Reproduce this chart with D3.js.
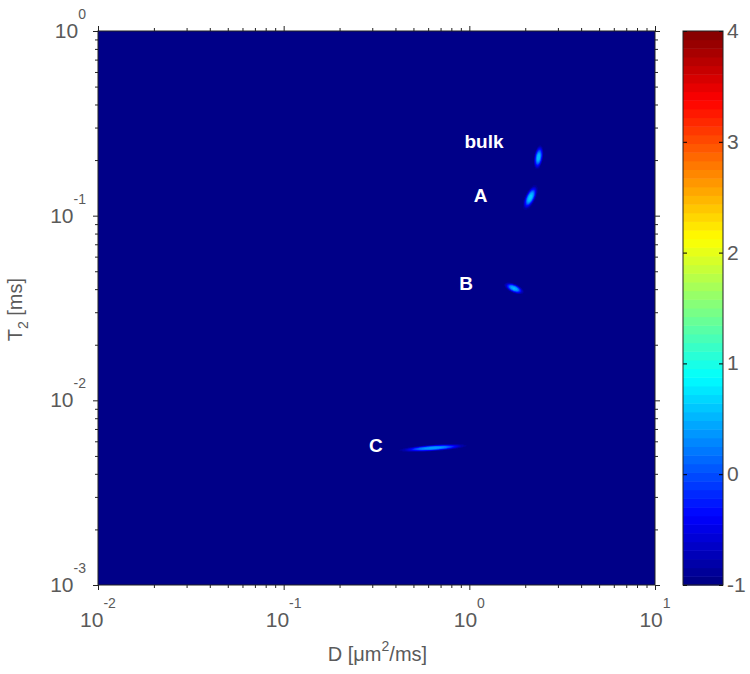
<!DOCTYPE html>
<html>
<head>
<meta charset="utf-8">
<script src="https://cdn.jsdelivr.net/npm/d3@7"></script>
<style>
  body { margin: 0; background: #fff; }
  text { font-family: "Liberation Sans", Arial, sans-serif; }
</style>
</head>
<body>
<svg id="chart"></svg>
<script>
// D-T2 map: peaks (D in um^2/ms, T2 in ms)
var peakNames = ["bulk", "A", "B", "C"];
var peakD     = [2.36, 2.13, 1.74, 0.637];
var peakT2    = [0.207, 0.1255, 0.0404, 0.00552];
var peakAmp   = [0.55, 0.6, 0.5, 0.4];           // colour-bar value at the peak
var peakLen   = [0.058, 0.062, 0.050, 0.160];    // half length, decades
var peakWid   = [0.022, 0.025, 0.022, 0.016];    // half width, decades
var peakTilt  = [-81, -65, 24, -4];              // degrees, screen space

// label positions
var labelD  = [1.2, 1.15, 0.96, 0.314];
var labelT2 = [0.254, 0.129, 0.043, 0.0057];

var xTickExp = [-2, -1, 0, 1];
var yTickExp = [0, -1, -2, -3];
var cbTicks  = [-1, 0, 1, 2, 3, 4];

var W = 750, H = 674;
var mLeft = 98, mRight = 655, mTop = 31, mBottom = 585;

var svg = d3.select("#chart").attr("width", W).attr("height", H);

var x = d3.scaleLog().domain([0.01, 10]).range([mLeft, mRight]);
var y = d3.scaleLog().domain([0.001, 1]).range([mBottom, mTop]);

// jet colour map, 64 steps, -1..4
var jetC = d3.scaleLinear()
    .domain([0, 0.125, 0.375, 0.625, 0.875, 1])
    .range(["#000080", "#0000ff", "#00ffff", "#ffff00", "#ff0000", "#800000"]);
function jet(v) {
    var f = (v + 1) / 5;
    var i = Math.max(0, Math.min(63, Math.floor(f * 64)));
    return jetC((i + 0.5) / 64);
}
var bg = jet(-1);

// plot background
svg.append("rect")
    .attr("x", mLeft).attr("y", mTop)
    .attr("width", mRight - mLeft).attr("height", mBottom - mTop)
    .attr("fill", bg);

var defs = svg.append("defs");
var pxPerDec = (mRight - mLeft) / 3;

// each peak: ellipse filled with a flat-topped radial profile
peakNames.forEach(function (n, k) {
    var g = defs.append("radialGradient").attr("id", "pk" + k);
    d3.range(0, 31).forEach(function (j) {
        var t = j / 30;
        var v = -1 + (peakAmp[k] + 1) * Math.exp(-Math.pow(t / 0.6, 3));
        g.append("stop").attr("offset", t).attr("stop-color", jet(v));
    });
    var px = x(peakD[k]), py = y(peakT2[k]);
    svg.append("ellipse")
        .attr("cx", px).attr("cy", py)
        .attr("rx", peakLen[k] * pxPerDec * 1.33)
        .attr("ry", peakWid[k] * pxPerDec * 1.33)
        .attr("transform", "rotate(" + peakTilt[k] + "," + px + "," + py + ")")
        .attr("fill", "url(#pk" + k + ")");
});

// peak labels
svg.selectAll(".plabel")
    .data(peakNames)
    .enter()
    .append("text")
    .attr("class", "plabel")
    .attr("x", function (d, i) { return x(labelD[i]); })
    .attr("y", function (d, i) { return y(labelT2[i]); })
    .attr("dy", "0.35em")
    .attr("text-anchor", "middle")
    .attr("fill", "#fff")
    .attr("font-weight", "bold")
    .attr("font-size", 19)
    .text(function (d) { return d; });

// minor ticks
function minors(sc) {
    return sc.ticks().filter(function (v) {
        var e = Math.log10(v);
        return Math.abs(e - Math.round(e)) > 1e-6;
    });
}
var xMajor = xTickExp.map(function (e) { return Math.pow(10, e); });
var yMajor = yTickExp.map(function (e) { return Math.pow(10, e); });

function drawAxis(axisFn, sc, pos, transform) {
    svg.append("g").attr("transform", transform)
        .call(axisFn(sc).tickValues(minors(sc)).tickSize(3).tickFormat(""))
        .call(function (g) { g.select(".domain").remove(); });
    svg.append("g").attr("transform", transform)
        .call(axisFn(sc).tickValues(pos).tickSize(5).tickFormat(""))
        .call(function (g) { g.select(".domain").remove(); });
}
drawAxis(d3.axisBottom, x, xMajor, "translate(0," + mBottom + ")");
drawAxis(d3.axisTop, x, xMajor, "translate(0," + mTop + ")");
drawAxis(d3.axisLeft, y, yMajor, "translate(" + mLeft + ",0)");
drawAxis(d3.axisRight, y, yMajor, "translate(" + mRight + ",0)");
svg.selectAll(".tick line").attr("stroke", "#222");

svg.append("rect")
    .attr("x", mLeft).attr("y", mTop)
    .attr("width", mRight - mLeft).attr("height", mBottom - mTop)
    .attr("fill", "none").attr("stroke", "#222").attr("stroke-width", 1);

// tick labels 10^n
var grey = "#5a5a5a";
function powLabel(g, e) {
    g.append("tspan").text("10");
    g.append("tspan").attr("dy", -19).attr("font-size", 14).text(e);
}
xTickExp.forEach(function (e) {
    var t = svg.append("text")
        .attr("x", x(Math.pow(10, e))).attr("y", mBottom + 42)
        .attr("text-anchor", "middle")
        .attr("font-size", 21).attr("fill", grey);
    powLabel(t, e);
});
yTickExp.forEach(function (e) {
    var t = svg.append("text")
        .attr("x", mLeft - 12).attr("y", y(Math.pow(10, e)) + 7)
        .attr("text-anchor", "end")
        .attr("font-size", 21).attr("fill", grey);
    powLabel(t, e);
});

// axis titles
var xt = svg.append("text")
    .attr("x", x(0.32)).attr("y", 661)
    .attr("text-anchor", "middle")
    .attr("font-size", 20).attr("fill", grey);
xt.append("tspan").text("D [\u03bcm");
xt.append("tspan").attr("dy", -10).attr("font-size", 14).text("2");
xt.append("tspan").attr("dy", 10).text("/ms]");

var yt = svg.append("text")
    .attr("transform", "translate(22," + y(0.031) + ") rotate(-90)")
    .attr("text-anchor", "middle")
    .attr("font-size", 20).attr("fill", grey);
yt.append("tspan").text("T");
yt.append("tspan").attr("dy", 6).attr("font-size", 14).text("2");
yt.append("tspan").attr("dy", -6).text(" [ms]");

// colour bar
var cbL = 683, cbW = 40;
var cbY = d3.scaleLinear().domain([-1, 4]).range([mBottom, mTop]);
var bands = d3.range(64);
svg.selectAll(".band")
    .data(bands)
    .enter()
    .append("rect")
    .attr("class", "band")
    .attr("x", cbL)
    .attr("y", function (i) { return cbY(-1 + (i + 1) * 5 / 64); })
    .attr("width", cbW)
    .attr("height", function (i) { return cbY(-1 + i * 5 / 64) - cbY(-1 + (i + 1) * 5 / 64) + 0.5; })
    .attr("fill", function (i) { return jetC((i + 0.5) / 64); });
svg.append("g").attr("transform", "translate(" + cbL + ",0)")
    .call(d3.axisRight(cbY).tickValues(cbTicks).tickSize(4).tickFormat(""))
    .call(function (g) { g.select(".domain").remove(); });
svg.append("g").attr("transform", "translate(" + (cbL + cbW) + ",0)")
    .call(d3.axisLeft(cbY).tickValues(cbTicks).tickSize(4).tickFormat(""))
    .call(function (g) { g.select(".domain").remove(); });
svg.append("rect")
    .attr("x", cbL).attr("y", mTop).attr("width", cbW).attr("height", mBottom - mTop)
    .attr("fill", "none").attr("stroke", "#222");
svg.selectAll(".cbl")
    .data(cbTicks)
    .enter()
    .append("text")
    .attr("class", "cbl")
    .attr("x", cbL + cbW + 4)
    .attr("y", function (d) { return cbY(d) + 7; })
    .attr("font-size", 21).attr("fill", grey)
    .text(function (d) { return d; });
</script>
</body>
</html>
